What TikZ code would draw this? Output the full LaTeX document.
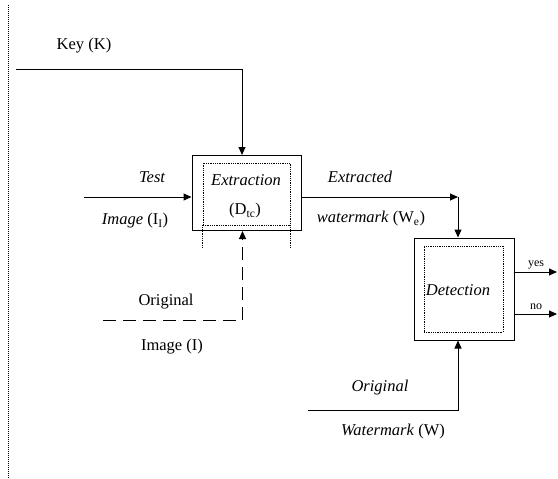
\documentclass[tikz,border=0pt]{standalone}
\usepackage{fontspec}
\setmainfont{Liberation Serif}
\usetikzlibrary{arrows.meta,positioning,calc}

\tikzset{
  block/.style={draw=black, line width=1pt, inner sep=0pt},
  dotbox/.style={draw=black, densely dotted, line width=0.8pt, inner sep=0pt},
  flow/.style={draw=black, line width=1pt, -{Triangle[length=8pt,width=7pt]}},
  txt/.style={inner sep=0pt, font=\fontsize{16.5}{19}\selectfont},
  smalltxt/.style={inner sep=0pt, font=\fontsize{12}{14}\selectfont},
}

\begin{document}
\begin{tikzpicture}[x=1pt,y=-1pt]
		\useasboundingbox (0,0) rectangle (558,479);
		\draw[black, densely dotted, line width=1pt] (8,5) -- (8,478);
		%
		% blocks
		\node[block, minimum width=109pt, minimum height=75pt] (ext) at (246.5,193) {};
		\node[dotbox, minimum width=87pt, minimum height=62pt] (extin) at (246.5,194) {};
		\draw[black, densely dotted, line width=0.8pt] (extin.south west) -- ++(0,22);
		\draw[black, densely dotted, line width=0.8pt] (extin.south east) -- ++(0,22);
		\node[block, minimum width=100pt, minimum height=102pt] (det) at (464,289) {};
		\node[dotbox, minimum width=79pt, minimum height=86pt] (detin) at (463.5,289) {};
		\node[txt, font=\fontsize{16.5}{19}\selectfont\itshape] (exttxt) at (246,180) {Extraction};
		\node[txt] (dtc) at (245,211) {(D\textsubscript{tc})};
		\node[txt, font=\fontsize{16.5}{19}\selectfont\itshape] (dettxt) at (458,290) {Detection};
		%
		% key
		\coordinate (key) at (16,69);
		\draw[flow] (key) -| ([xshift=-4.5pt]ext.north);
		\node[txt] (keytxt) at (84,46) {Key (K)};
		%
		% test image
		\coordinate (test) at (84,197);
		\draw[flow] (test) -- (test -| ext.west);
		\node[txt, font=\fontsize{16.5}{19}\selectfont\itshape] (testtxt) at (152,177) {Test};
		\node[txt] (testimg) at (135,221) {\textit{Image} (I\textsubscript{I})};
		%
		% original image
		\coordinate (orig) at (103,320);
		\draw[flow, dash pattern=on 13pt off 7pt] (orig) -| ([xshift=-4pt]ext.south);
		\node[txt] (origtxt) at (166,302) {Original};
		\node[txt] (origimg) at (172,347) {Image (I)};
		%
		% extracted watermark
		\coordinate (bend) at (458,197);
		\draw[flow] (bend -| ext.east) -- (bend);
		\draw[flow] (bend) -- (bend |- det.north);
		\node[txt, font=\fontsize{16.5}{19}\selectfont\itshape] (extrtxt) at (360,177) {Extracted};
		\node[txt] (wetxt) at (371,219) {\textit{watermark} (W\textsubscript{e})};
		%
		% original watermark
		\coordinate (wm) at (308,410);
		\draw[flow] (wm) -| (det.south -| bend);
		\node[txt, font=\fontsize{16.5}{19}\selectfont\itshape] (origwm) at (380,388) {Original};
		\node[txt] (wmtxt) at (393,432) {\textit{Watermark} (W)};
		%
		% outputs
		\coordinate (yes) at (557,272);
		\coordinate (no) at (557,314);
		\draw[flow] (yes -| det.east) -- (yes);
		\draw[flow] (no -| det.east) -- (no);
		\node[smalltxt] (yestxt) at (536,265) {yes};
		\node[smalltxt] (notxt) at (536,307) {no};
	\end{tikzpicture}
\end{document}
